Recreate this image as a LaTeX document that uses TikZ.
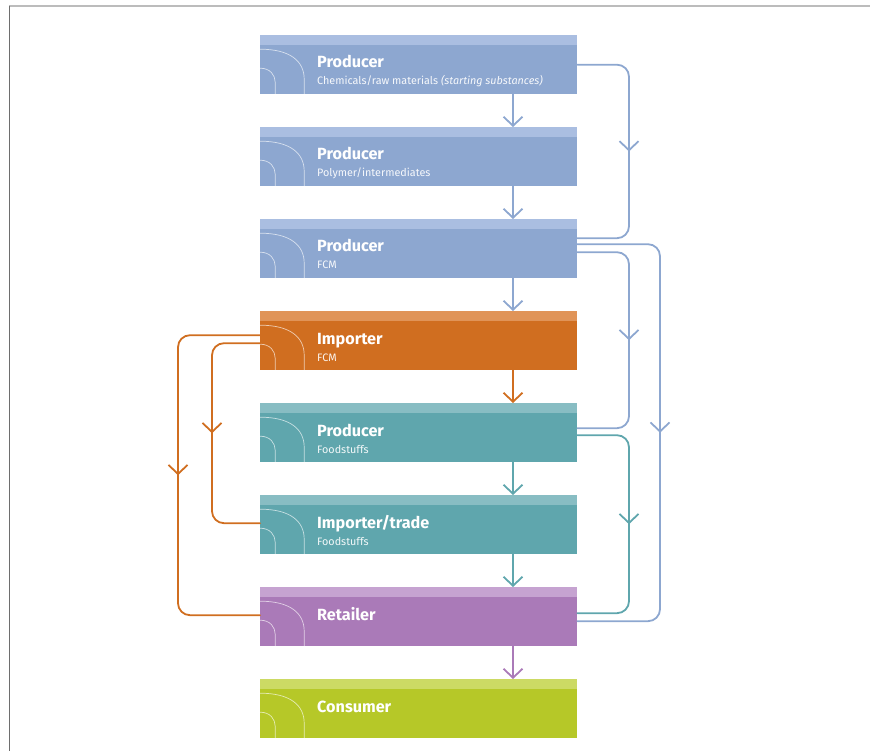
\documentclass[tikz,border=0pt]{standalone}
\usepackage{fontspec}
\setmainfont{Fira Sans}
\usetikzlibrary{arrows.meta,decorations.markings}

% stage colours: body and lighter top band
\definecolor{prodblue}{RGB}{141,167,208}
\definecolor{prodbluelt}{RGB}{170,190,225}
\definecolor{imporange}{RGB}{208,110,32}
\definecolor{imporangelt}{RGB}{224,148,88}
\definecolor{foodteal}{RGB}{95,166,173}
\definecolor{foodteallt}{RGB}{136,189,195}
\definecolor{retpurple}{RGB}{170,122,184}
\definecolor{retpurplelt}{RGB}{198,163,209}
\definecolor{conslime}{RGB}{182,200,40}
\definecolor{conslimelt}{RGB}{204,218,100}
\definecolor{framegray}{RGB}{188,188,188}
\definecolor{frameedge}{RGB}{110,110,110}

\tikzset{
  stage/.style 2 args={rectangle, anchor=north west, inner sep=0pt,
    minimum width=317pt, minimum height=59pt, fill=#1,
    path picture={
      \fill[#2] (path picture bounding box.north west) rectangle
        ([yshift=-10pt]path picture bounding box.north east);
      \draw[white, opacity=0.65, line width=0.7pt]
        ([yshift=-14pt]path picture bounding box.north west)
          .. controls +(30pt,0pt) and +(0pt,18pt) ..
        ([xshift=44pt,yshift=-44pt]path picture bounding box.north west)
          -- ([xshift=44pt]path picture bounding box.south west);
      \draw[white, opacity=0.65, line width=0.7pt]
        ([yshift=-33pt]path picture bounding box.north west)
          .. controls +(10pt,0pt) and +(0pt,7pt) ..
        ([xshift=15pt,yshift=-47pt]path picture bounding box.north west)
          -- ([xshift=15pt]path picture bounding box.south west);
    }},
  title/.style={anchor=base west, inner sep=0pt, text=white,
    font=\fontsize{16.2}{18}\selectfont\bfseries},
  subtitle/.style={anchor=base west, inner sep=0pt, text=white, text opacity=0.92,
    font=\fontsize{10.8}{12}\selectfont},
  flow/.style={color=#1, line width=1.8pt, rounded corners=12pt, line cap=round},
  midarrow/.style={postaction={decorate}, decoration={markings,
    mark=at position 0.5 with {\arrow{Straight Barb[length=9pt,width=19pt]}}}},
  endarrow/.style={-{Straight Barb[length=9pt,width=19pt]}},
}

\begin{document}
\begin{tikzpicture}[x=1pt,y=-1pt]
\useasboundingbox (0,0) rectangle (870,751);

% page frame
\draw[framegray, line width=2pt] (9,6.5) -- (870,6.5);
\draw[frameedge, line width=1pt] (9.5,6) -- (9.5,751);

% supply chain stages
\node[stage={prodblue}{prodbluelt}]   (b1) at (260,35)  {};
\node[stage={prodblue}{prodbluelt}]   (b2) at (260,127) {};
\node[stage={prodblue}{prodbluelt}]   (b3) at (260,219) {};
\node[stage={imporange}{imporangelt}] (b4) at (260,311) {};
\node[stage={foodteal}{foodteallt}]   (b5) at (260,403) {};
\node[stage={foodteal}{foodteallt}]   (b6) at (260,495) {};
\node[stage={retpurple}{retpurplelt}] (b7) at (260,587) {};
\node[stage={conslime}{conslimelt}]   (b8) at (260,679) {};

% stage labels
\node[title]    (t1) at ([xshift=57pt,yshift=-33pt]b1.north west) {Producer};
\node[subtitle] (s1) at ([xshift=57pt,yshift=-50pt]b1.north west) {Chemicals/raw materials \textit{(starting substances)}};
\node[title]    (t2) at ([xshift=57pt,yshift=-33pt]b2.north west) {Producer};
\node[subtitle] (s2) at ([xshift=57pt,yshift=-50pt]b2.north west) {Polymer/intermediates};
\node[title]    (t3) at ([xshift=57pt,yshift=-33pt]b3.north west) {Producer};
\node[subtitle] (s3) at ([xshift=57pt,yshift=-50pt]b3.north west) {FCM};
\node[title]    (t4) at ([xshift=57pt,yshift=-33pt]b4.north west) {Importer};
\node[subtitle] (s4) at ([xshift=57pt,yshift=-50pt]b4.north west) {FCM};
\node[title]    (t5) at ([xshift=57pt,yshift=-33pt]b5.north west) {Producer};
\node[subtitle] (s5) at ([xshift=57pt,yshift=-50pt]b5.north west) {Foodstuffs};
\node[title]    (t6) at ([xshift=57pt,yshift=-33pt]b6.north west) {Importer/trade};
\node[subtitle] (s6) at ([xshift=57pt,yshift=-50pt]b6.north west) {Foodstuffs};
\node[title]    (t7) at ([xshift=57pt,yshift=-33pt]b7.north west) {Retailer};
\node[title]    (t8) at ([xshift=57pt,yshift=-33pt]b8.north west) {Consumer};

% routing columns
\coordinate (midx) at (513,0);
\coordinate (colA) at (629,0);
\coordinate (colB) at (660,0);
\coordinate (colL) at (178,0);
\coordinate (colM) at (212,0);

% ports on the stage edges
\coordinate (p3a) at ([yshift=10.5pt]b3.east);
\coordinate (p3b) at ([yshift=4.5pt]b3.east);
\coordinate (p3c) at ([yshift=-3.5pt]b3.east);
\coordinate (p5c) at ([yshift=4.5pt]b5.east);
\coordinate (p5t) at ([yshift=-2.5pt]b5.east);
\coordinate (p7t) at ([yshift=3.5pt]b7.east);
\coordinate (p7b) at ([yshift=-4.5pt]b7.east);
\coordinate (p4o) at ([yshift=5.5pt]b4.west);
\coordinate (p4i) at ([yshift=-2.5pt]b4.west);
\coordinate (p7o) at ([yshift=1.5pt]b7.west);
\coordinate (p6i) at ([yshift=1.5pt]b6.west);

% main chain
\draw[flow=prodblue, endarrow]  (b1.south -| midx) -- (b2.north -| midx);
\draw[flow=prodblue, endarrow]  (b2.south -| midx) -- (b3.north -| midx);
\draw[flow=prodblue, endarrow]  (b3.south -| midx) -- (b4.north -| midx);
\draw[flow=imporange, endarrow] (b4.south -| midx) -- (b5.north -| midx);
\draw[flow=foodteal, endarrow]  (b5.south -| midx) -- (b6.north -| midx);
\draw[flow=foodteal, endarrow]  (b6.south -| midx) -- (b7.north -| midx);
\draw[flow=retpurple, endarrow] (b7.south -| midx) -- (b8.north -| midx);

% bypass routes on the right
\draw[flow=prodblue, midarrow] (b1.east) -- (b1.east -| colA) -- (p3a -| colA) -- (p3a);
\draw[flow=prodblue, midarrow] (p3b) -- (p3b -| colB) -- (p7b -| colB) -- (p7b);
\draw[flow=prodblue, midarrow] (p3c) -- (p3c -| colA) -- (p5c -| colA) -- (p5c);
\draw[flow=foodteal, midarrow] (p5t) -- (p5t -| colA) -- (p7t -| colA) -- (p7t);

% bypass routes on the left
\draw[flow=imporange, midarrow] (p4o) -- (p4o -| colL) -- (p7o -| colL) -- (p7o);
\draw[flow=imporange, midarrow] (p4i) -- (p4i -| colM) -- (p6i -| colM) -- (p6i);
\end{tikzpicture}
\end{document}
